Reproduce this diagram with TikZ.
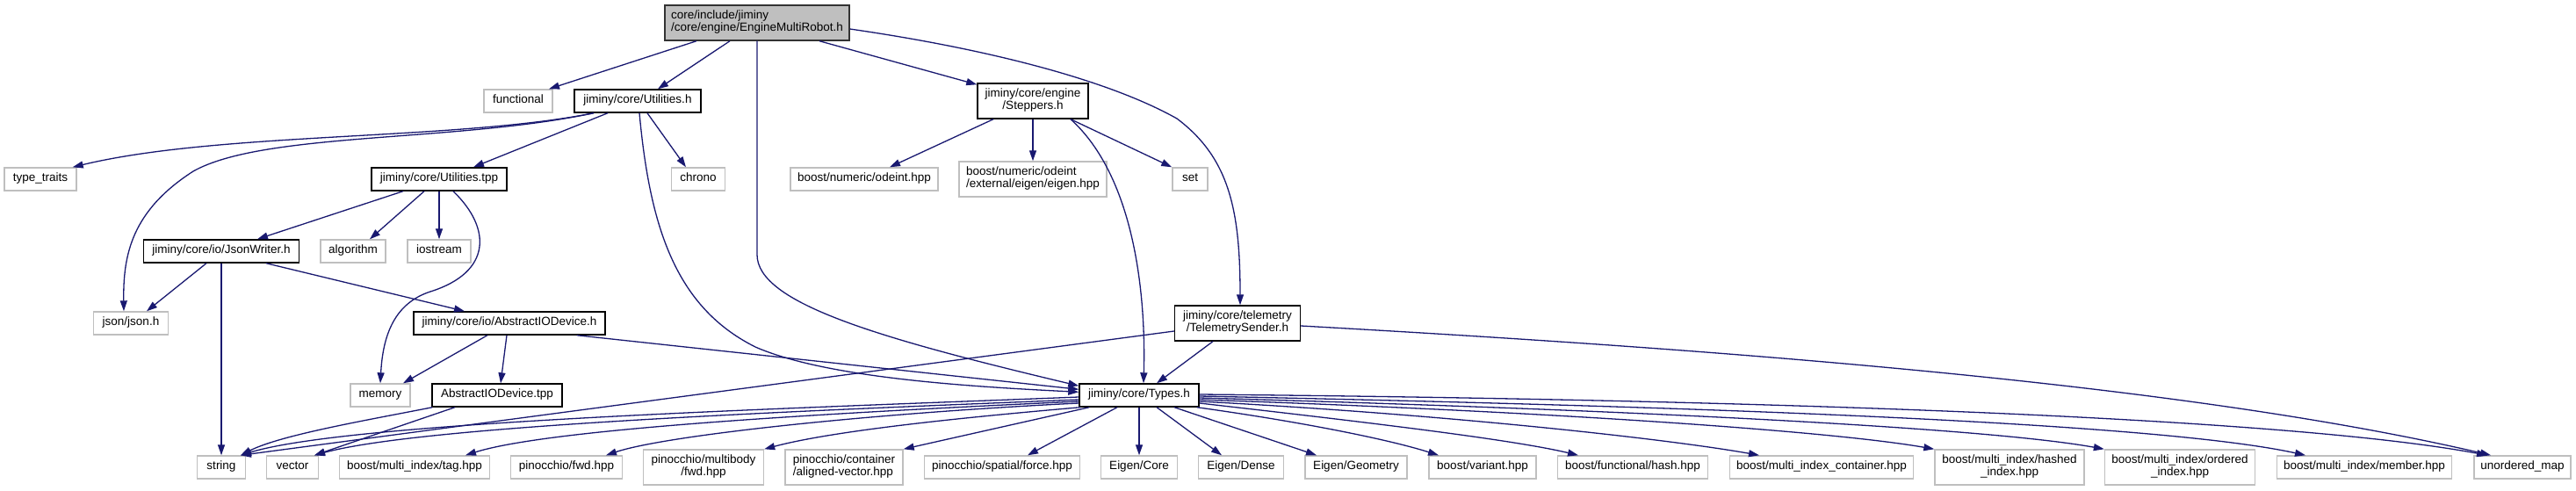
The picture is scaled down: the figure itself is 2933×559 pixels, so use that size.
\documentclass[tikz,border=0pt]{standalone}
\usepackage{fontspec}
\setmainfont{Liberation Sans}
\usetikzlibrary{arrows.meta,positioning}
\definecolor{edgeblue}{HTML}{191970}
\definecolor{boxgray}{HTML}{BFBFBF}

\tikzset{
  hdr/.style={draw=boxgray, line width=1.4pt, fill=white, inner xsep=0pt, inner ysep=0pt,
    minimum height=26, font=\fontsize{13.5}{14}\selectfont, execute at begin node=\strut},
  hdrdoc/.style={hdr, draw=black},
  hdrroot/.style={hdr, draw=black!80, fill=boxgray},
  tall/.style={minimum height=40, align=center},
  inc/.style={draw=edgeblue, line width=1.3pt, -{Triangle[length=12pt,width=8pt]}},
}

\begin{document}
\begin{tikzpicture}[x=1pt, y=-1pt]
\useasboundingbox (0,0) rectangle (2933,559);

% headers
\node[hdrroot, tall, align=left, minimum width=210] (engine) at (862,26) {core/include/jiminy\\/core/engine/EngineMultiRobot.h};
\node[hdr, minimum width=78] (functional) at (590,115) {functional};
\node[hdrdoc, minimum width=144] (util) at (726,115) {jiminy/core/Utilities.h};
\node[hdrdoc, tall, minimum width=126] (steppers) at (1176,115) {jiminy/core/engine\\/Steppers.h};
\node[hdr, minimum width=82] (typetraits) at (46,204) {type\_traits};
\node[hdrdoc, minimum width=154] (utiltpp) at (500,204) {jiminy/core/Utilities.tpp};
\node[hdr, minimum width=61] (chrono) at (795,204) {chrono};
\node[hdr, minimum width=168] (odeint) at (984,204) {boost/numeric/odeint.hpp};
\node[hdr, tall, align=left, minimum width=168] (eigenint) at (1176,204) {boost/numeric/odeint\\/external/eigen/eigen.hpp};
\node[hdr, minimum width=40] (set) at (1355,204) {set};
\node[hdrdoc, minimum width=177] (jsonwriter) at (252,286) {jiminy/core/io/JsonWriter.h};
\node[hdr, minimum width=74] (algorithm) at (402,286) {algorithm};
\node[hdr, minimum width=72] (iostream) at (500,286) {iostream};
\node[hdr, minimum width=85] (json) at (149,368) {json/json.h};
\node[hdrdoc, minimum width=218] (absio) at (580,368) {jiminy/core/io/AbstractIODevice.h};
\node[hdrdoc, tall, minimum width=143] (telemetry) at (1409,368) {jiminy/core/telemetry\\/TelemetrySender.h};
\node[hdr, minimum width=68] (memory) at (433,450) {memory};
\node[hdrdoc, minimum width=148] (absiotpp) at (566,450) {AbstractIODevice.tpp};
\node[hdrdoc, minimum width=136] (types) at (1297,450) {jiminy/core/Types.h};

% bottom row
\node[hdr, minimum width=55] (str) at (252,532) {string};
\node[hdr, minimum width=59] (vec) at (333,532) {vector};
\node[hdr, minimum width=171] (mitag) at (472,532) {boost/multi\_index/tag.hpp};
\node[hdr, minimum width=127] (pinfwd) at (645,532) {pinocchio/fwd.hpp};
\node[hdr, tall, minimum width=137] (pinmb) at (801,532) {pinocchio/multibody\\/fwd.hpp};
\node[hdr, tall, align=left, minimum width=134] (pinvec) at (961,532) {pinocchio/container\\/aligned-vector.hpp};
\node[hdr, minimum width=177] (pinforce) at (1141,532) {pinocchio/spatial/force.hpp};
\node[hdr, minimum width=87] (eigcore) at (1297,532) {Eigen/Core};
\node[hdr, minimum width=97] (eigdense) at (1413,532) {Eigen/Dense};
\node[hdr, minimum width=116] (eiggeo) at (1544,532) {Eigen/Geometry};
\node[hdr, minimum width=122] (variant) at (1688,532) {boost/variant.hpp};
\node[hdr, minimum width=171] (fhash) at (1859,532) {boost/functional/hash.hpp};
\node[hdr, minimum width=209] (micont) at (2074,532) {boost/multi\_index\_container.hpp};
\node[hdr, tall, minimum width=170] (mihashed) at (2288,532) {boost/multi\_index/hashed\\\_index.hpp};
\node[hdr, tall, minimum width=171] (miordered) at (2482,532) {boost/multi\_index/ordered\\\_index.hpp};
\node[hdr, minimum width=199] (mimember) at (2692,532) {boost/multi\_index/member.hpp};
\node[hdr, minimum width=110] (umap) at (2872,532) {unordered\_map};

% EngineMultiRobot.h
\draw[inc] ([xshift=-69]engine.south) -- ([xshift=35]functional.north);
\draw[inc] ([xshift=-31]engine.south) -- ([xshift=23]util.north);
\draw[inc] (engine.south) -- (862,290) .. controls (862,345) and (1000,385) .. ([yshift=-3]types.north west);
\draw[inc] ([xshift=71]engine.south) -- ([yshift=-2]steppers.north west);
\draw[inc] ([yshift=-7]engine.east) .. controls (1120,55) and (1260,90) .. (1340,135)
  .. controls (1400,180) and (1412,240) .. ([xshift=3]telemetry.north);

% Utilities.h
\draw[inc] ([xshift=-50]util.south) .. controls (520,160) and (250,150) .. ([xshift=-5]typetraits.north east);
\draw[inc] ([xshift=-50]util.south) .. controls (520,162) and (300,150) .. (220,195)
  .. controls (150,240) and (140,290) .. ([xshift=-8]json.north);
\draw[inc] ([xshift=-34]util.south) -- ([xshift=39]utiltpp.north);
\draw[inc] ([xshift=11]util.south) -- ([xshift=-14]chrono.north);
\draw[inc] ([xshift=2]util.south) .. controls (740,260) and (770,350) .. (860,395)
  .. controls (940,430) and (1100,440) .. ([yshift=-10]types.north west);

% Utilities.tpp
\draw[inc] ([xshift=-41]utiltpp.south) -- ([xshift=41]jsonwriter.north);
\draw[inc] ([xshift=-17]utiltpp.south) -- ([xshift=19]algorithm.north);
\draw[inc] (utiltpp.south) -- (iostream.north);
\draw[inc] ([xshift=16]utiltpp.south) .. controls (560,260) and (560,310) .. (490,332)
  .. controls (450,345) and (436,380) .. (memory.north);

% JsonWriter.h
\draw[inc] ([xshift=-17]jsonwriter.south) -- ([xshift=18]json.north);
\draw[inc] (jsonwriter.south) -- (str.north);
\draw[inc] ([xshift=51]jsonwriter.south) -- ([xshift=-51]absio.north);

% AbstractIODevice.h / .tpp
\draw[inc] ([xshift=-25]absio.south) -- ([xshift=26]memory.north);
\draw[inc] ([xshift=-3]absio.south) -- ([xshift=4]absiotpp.north);
\draw[inc] ([xshift=-33]absio.south east) -- ([yshift=-7]types.north west);
\draw[inc] ([xshift=1]absiotpp.south west) .. controls (420,478) and (320,495) .. ([xshift=22]str.north);
\draw[inc] ([xshift=-48]absiotpp.south) -- ([xshift=25]vec.north);

% Steppers.h
\draw[inc] ([xshift=-45]steppers.south) -- ([xshift=29]odeint.north);
\draw[inc] (steppers.south) -- (eigenint.north);
\draw[inc] ([xshift=43]steppers.south) -- (set.north west);
\draw[inc] ([xshift=43]steppers.south) .. controls (1290,200) and (1305,330) .. ([xshift=5]types.north);

% TelemetrySender.h
\draw[inc] ([yshift=-9]telemetry.west) -- ([xshift=22]str.north);
\draw[inc] ([xshift=-28]telemetry.south) -- ([xshift=20]types.north);
\draw[inc] ([yshift=-3]telemetry.east) .. controls (2000,400) and (2500,440) .. ([xshift=-36]umap.north);

% Types.h
\draw[inc] ([yshift=-2]types.west) .. controls (900,465) and (400,480) .. ([xshift=22]str.north);
\draw[inc] ([yshift=-5]types.west) .. controls (900,468) and (480,485) .. ([xshift=25]vec.north);
\draw[inc] ([yshift=-7]types.west) .. controls (900,472) and (620,490) .. ([xshift=58]mitag.north);
\draw[inc] ([yshift=-9]types.west) .. controls (1000,470) and (760,495) .. ([xshift=45]pinfwd.north);
\draw[inc] ([xshift=2]types.south west) .. controls (1100,475) and (950,490) .. (pinmb.north east);
\draw[inc] ([xshift=12]types.south west) -- (pinvec.north east);
\draw[inc] ([xshift=-25]types.south) -- ([xshift=29]pinforce.north);
\draw[inc] (types.south) -- (eigcore.north);
\draw[inc] ([xshift=20]types.south) -- ([xshift=-22]eigdense.north);
\draw[inc] ([xshift=40]types.south) -- ([xshift=-45]eiggeo.north);
\draw[inc] ([xshift=-3]types.south east) .. controls (1480,480) and (1580,500) .. ([xshift=-50]variant.north);
\draw[inc] ([yshift=-9]types.east) .. controls (1550,480) and (1720,500) .. ([xshift=-62]fhash.north);
\draw[inc] ([yshift=-7]types.east) .. controls (1650,472) and (1900,500) .. ([xshift=-71]micont.north);
\draw[inc] ([yshift=-5]types.east) .. controls (1750,468) and (2080,490) .. (mihashed.north west);
\draw[inc] ([yshift=-3]types.east) .. controls (1800,465) and (2250,485) .. (miordered.north west);
\draw[inc] ([yshift=-1]types.east) .. controls (1900,462) and (2450,480) .. ([xshift=-67]mimember.north);
\draw[inc] ([yshift=1]types.east) .. controls (2000,455) and (2600,475) .. ([xshift=-40]umap.north);
\end{tikzpicture}
\end{document}
